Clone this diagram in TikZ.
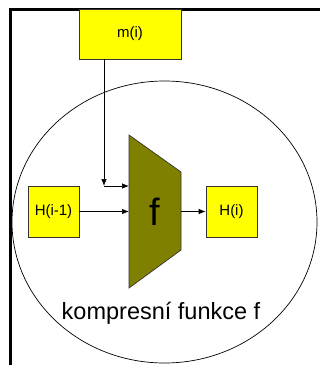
\documentclass[tikz,border=0pt]{standalone}
\usepackage{fontspec}
\setmainfont{Liberation Sans}
\usetikzlibrary{arrows.meta}
\definecolor{boxyellow}{RGB}{255,255,0}
\definecolor{olivef}{RGB}{128,128,0}
\begin{document}
\begin{tikzpicture}[x=1pt,y=-1pt,
  ybox/.style={draw=black!80, fill=boxyellow, line width=0.7pt, minimum width=51pt, minimum height=51pt, inner sep=0pt, font=\fontsize{15}{15}\selectfont},
  conn/.style={line width=0.7pt, -{Latex[length=7pt,width=5.5pt]}}]
\useasboundingbox (0,0) rectangle (320,365);
\fill[white] (0,0) rectangle (320,365);
% outer frame (left and top edges)
\draw[line width=3pt] (10,365) -- (10,9.5) -- (320,9.5);
% enclosing ellipse
\draw[line width=0.7pt] (164.5,222) ellipse [x radius=152.5pt, y radius=141pt];
% message block
\node[ybox, minimum width=102pt, minimum height=50pt] (mi) at (130,34) {m(i)};
% chaining values
\node[ybox] (hprev) at (53.5,211.5) {H(i-1)};
\node[ybox] (hnext) at (231.5,211.5) {H(i)};
% compression function body
\draw[fill=olivef, draw=black!80, line width=0.7pt] (129,135) -- (181,172) -- (181,250) -- (129,288) -- cycle;
\node[font=\fontsize{38}{38}\selectfont] (f) at (155,212) {f};
\coordinate (fin1) at (129,186);
\coordinate (fin2) at (129,211.5);
\coordinate (fout) at (181,211.5);
\coordinate (mtop) at (104,59);
\coordinate (mcorner) at (104,186);
% connectors
\draw[conn] (mtop) -- (mcorner);
\draw[conn] (mcorner) -- (fin1);
\draw[conn] (hprev.east) -- (fin2);
\draw[conn] (fout) -- (hnext.west);
% caption
\node[font=\fontsize{23.5}{24}\selectfont] (cap) at (161,313) {kompresní funkce f};
\end{tikzpicture}
\end{document}
